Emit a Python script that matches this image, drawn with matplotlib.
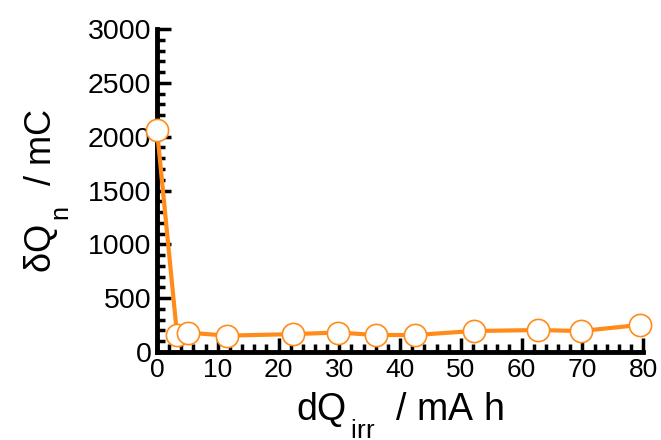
import numpy as np
from matplotlib import pyplot as plt
from matplotlib.ticker import MultipleLocator

plt.rcParams['font.family'] = ['Liberation Sans', 'DejaVu Sans']
plt.rcParams['mathtext.default'] = 'regular'

# push subscripts lower, as in the source figure
try:
    import matplotlib._mathtext as _mt
    _mt.FontConstantsBase.sub1 = 0.9
    _mt.FontConstantsBase.sub2 = 0.9
except Exception:
    pass

# charge passed vs. noise charge
dq_irr = [0.0, 3.3, 5.1, 11.5, 22.4, 29.8, 36.0, 42.5, 52.1, 62.7, 69.8, 79.4]
dq_n = [2065, 158, 180, 152, 166, 181, 158, 158, 195, 204, 195, 251]

fig = plt.figure(figsize=(6.61, 4.40), dpi=100)
ax = fig.add_axes([0.2375, 0.2, 0.7355, 0.734])

ax.plot(dq_irr, dq_n, color='#ff8c1a', lw=3, marker='o', ms=16,
        mfc='white', mec='#ff8c1a', mew=1.2, clip_on=False, zorder=3)

ax.set_xlim(0, 80)
ax.set_ylim(0, 3000)
ax.xaxis.set_major_locator(MultipleLocator(10))
ax.xaxis.set_minor_locator(MultipleLocator(2))
ax.yaxis.set_major_locator(MultipleLocator(500))
ax.yaxis.set_minor_locator(MultipleLocator(100))

for s in ['top', 'right']:
    ax.spines[s].set_visible(False)
for s in ['left', 'bottom']:
    ax.spines[s].set_linewidth(3.5)

ax.tick_params(which='major', direction='in', length=10, width=2.5, pad=4)
ax.tick_params(which='minor', direction='in', length=5.5, width=2.5)
ax.tick_params(axis='y', labelsize=20.5)
ax.tick_params(axis='x', labelsize=19)

ax.set_xlabel(r'dQ$_{\,irr}$  / mA h', fontsize=27, labelpad=6)
ax.set_ylabel(r'$\delta$Q$_{\,n}$  / mC', fontsize=26, labelpad=12)

fig.savefig('out.png', dpi=100)
